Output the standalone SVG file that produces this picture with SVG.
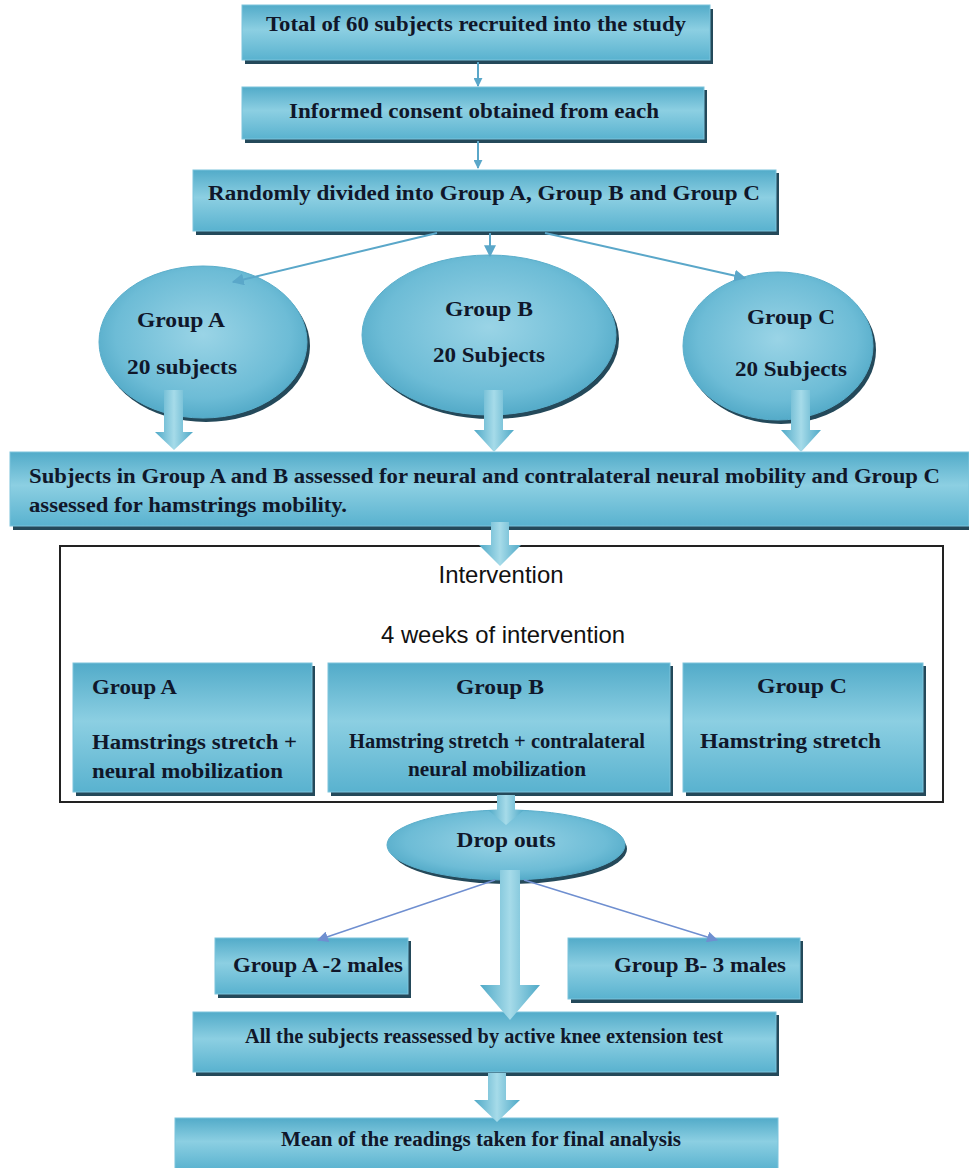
<svg xmlns="http://www.w3.org/2000/svg" width="969" height="1168" viewBox="0 0 969 1168">
<defs>
<linearGradient id="boxg" x1="0" y1="0" x2="0" y2="1">
<stop offset="0" stop-color="#52abc9"/>
<stop offset="0.45" stop-color="#8ccfe2"/>
<stop offset="1" stop-color="#59b2cf"/>
</linearGradient>
<radialGradient id="ellg" cx="0.5" cy="0.45" r="0.6">
<stop offset="0" stop-color="#9ad4e6"/>
<stop offset="0.7" stop-color="#6dbcd6"/>
<stop offset="1" stop-color="#4aa4c3"/>
</radialGradient>
<linearGradient id="fatg" x1="0" y1="0" x2="1" y2="0">
<stop offset="0" stop-color="#4fa9c7"/>
<stop offset="0.5" stop-color="#a6dbe9"/>
<stop offset="1" stop-color="#4fa9c7"/>
</linearGradient>
<marker id="ah" viewBox="0 0 10 10" refX="9" refY="5" markerWidth="9" markerHeight="9" orient="auto" markerUnits="userSpaceOnUse">
<path d="M0,0 L10,5 L0,10 Z" fill="#5aa7c9"/>
</marker>
<marker id="ah2" viewBox="0 0 10 10" refX="9" refY="5" markerWidth="12" markerHeight="12" orient="auto" markerUnits="userSpaceOnUse">
<path d="M0,0 L10,5 L0,10 Z" fill="#5aa7c9"/>
</marker>
<marker id="ah3" viewBox="0 0 10 10" refX="9" refY="5" markerWidth="11" markerHeight="11" orient="auto" markerUnits="userSpaceOnUse">
<path d="M0,0 L10,5 L0,10 Z" fill="#6f8fd0"/>
</marker>
</defs>
<style>
.box{fill:url(#boxg);stroke:#7cc4dc;stroke-width:1}
.sh{fill:#24495a}
.ell{fill:url(#ellg);stroke:#5aaecb;stroke-width:1}
.t{font-family:"Liberation Serif","Times New Roman",serif;font-weight:bold;font-size:20px;fill:#10172a}
.s{font-family:"Liberation Sans",Arial,sans-serif;font-size:24px;fill:#111}
.thin{stroke:#5aa7c9;stroke-width:2;fill:none}
.thin2{stroke:#6f8fd0;stroke-width:1.5;fill:none}
.fat{fill:url(#fatg)}
.mid{text-anchor:middle}
</style>

<g id="n1">
<rect class="sh" x="245" y="9" width="468" height="55"/>
<rect class="box" x="242" y="5" width="468" height="55"/>
<text class="t mid" x="476" y="31" textLength="420" lengthAdjust="spacingAndGlyphs">Total of 60 subjects recruited into the study</text>
</g>
<g id="n2">
<rect class="sh" x="245" y="90" width="462" height="53"/>
<rect class="box" x="242" y="87" width="462" height="52"/>
<text class="t mid" x="474" y="118" textLength="370" lengthAdjust="spacingAndGlyphs">Informed consent obtained from each</text>
</g>
<g id="n3">
<rect class="sh" x="196" y="173" width="583" height="62"/>
<rect class="box" x="193" y="170" width="583" height="61"/>
<text class="t mid" x="484" y="200" textLength="552" lengthAdjust="spacingAndGlyphs">Randomly divided into Group A, Group B and Group C</text>
</g>

<g id="eA">
<ellipse class="sh" cx="206" cy="346" rx="104" ry="76"/>
<ellipse class="ell" cx="203" cy="342" rx="104" ry="76"/>
<text class="t mid" x="181" y="327" textLength="88" lengthAdjust="spacingAndGlyphs">Group A</text>
<text class="t mid" x="182" y="374" textLength="110" lengthAdjust="spacingAndGlyphs">20 subjects</text>
</g>
<g id="eB">
<ellipse class="sh" cx="492" cy="339" rx="127" ry="80"/>
<ellipse class="ell" cx="489" cy="335" rx="127" ry="80"/>
<text class="t mid" x="489" y="316" textLength="88" lengthAdjust="spacingAndGlyphs">Group B</text>
<text class="t mid" x="489" y="362" textLength="112" lengthAdjust="spacingAndGlyphs">20 Subjects</text>
</g>
<g id="eC">
<ellipse class="sh" cx="781" cy="350" rx="95" ry="74"/>
<ellipse class="ell" cx="778" cy="346" rx="95" ry="74"/>
<text class="t mid" x="791" y="324" textLength="88" lengthAdjust="spacingAndGlyphs">Group C</text>
<text class="t mid" x="791" y="376" textLength="112" lengthAdjust="spacingAndGlyphs">20 Subjects</text>
</g>

<g id="n4">
<rect class="sh" x="13" y="456" width="956" height="74"/>
<rect class="box" x="10" y="452" width="959" height="74"/>
<text class="t" x="29" y="483" textLength="911" lengthAdjust="spacingAndGlyphs">Subjects in Group A and B assessed for neural and contralateral neural mobility and Group C</text>
<text class="t" x="29" y="512" textLength="318" lengthAdjust="spacingAndGlyphs">assessed for hamstrings mobility.</text>
</g>

<g id="intervention">
<rect x="60" y="546" width="883" height="256" fill="#fff" stroke="#222" stroke-width="2"/>
<text class="s mid" x="501" y="583" textLength="125" lengthAdjust="spacingAndGlyphs">Intervention</text>
<text class="s mid" x="503" y="643" textLength="244" lengthAdjust="spacingAndGlyphs">4 weeks of intervention</text>
</g>
<g id="iA">
<rect class="sh" x="76" y="666" width="239" height="130"/>
<rect class="box" x="73" y="663" width="239" height="129"/>
<text class="t" x="92" y="694" textLength="85" lengthAdjust="spacingAndGlyphs">Group A</text>
<text class="t" x="92" y="749" textLength="205" lengthAdjust="spacingAndGlyphs">Hamstrings stretch +</text>
<text class="t" x="92" y="778" textLength="191" lengthAdjust="spacingAndGlyphs">neural mobilization</text>
</g>
<g id="iB">
<rect class="sh" x="331" y="666" width="342" height="130"/>
<rect class="box" x="328" y="663" width="342" height="129"/>
<text class="t mid" x="500" y="694" textLength="88" lengthAdjust="spacingAndGlyphs">Group B</text>
<text class="t mid" x="497" y="748" textLength="296" lengthAdjust="spacingAndGlyphs">Hamstring stretch + contralateral</text>
<text class="t mid" x="497" y="776" textLength="178" lengthAdjust="spacingAndGlyphs">neural mobilization</text>
</g>
<g id="iC">
<rect class="sh" x="686" y="666" width="240" height="130"/>
<rect class="box" x="683" y="663" width="240" height="129"/>
<text class="t mid" x="802" y="693" textLength="90" lengthAdjust="spacingAndGlyphs">Group C</text>
<text class="t" x="700" y="748" textLength="181" lengthAdjust="spacingAndGlyphs">Hamstring stretch</text>
</g>

<g id="dropouts">
<ellipse class="sh" cx="509" cy="849" rx="118" ry="35"/>
<ellipse class="ell" cx="506" cy="845" rx="119" ry="35"/>
<text class="t mid" x="506" y="847" textLength="99" lengthAdjust="spacingAndGlyphs">Drop outs</text>
</g>
<g id="dA">
<rect class="sh" x="218" y="941" width="193" height="57"/>
<rect class="box" x="215" y="938" width="193" height="56"/>
<text class="t mid" x="318" y="972" textLength="170" lengthAdjust="spacingAndGlyphs">Group A -2 males</text>
</g>
<g id="dB">
<rect class="sh" x="571" y="941" width="232" height="62"/>
<rect class="box" x="568" y="938" width="232" height="61"/>
<text class="t mid" x="700" y="972" textLength="172" lengthAdjust="spacingAndGlyphs">Group B- 3 males</text>
</g>
<g id="n5">
<rect class="sh" x="196" y="1015" width="583" height="61"/>
<rect class="box" x="193" y="1012" width="583" height="60"/>
<text class="t mid" x="484" y="1043" textLength="478" lengthAdjust="spacingAndGlyphs">All the subjects reassessed by active knee extension test</text>
</g>
<g id="n6">
<rect class="box" x="175" y="1118" width="603" height="52"/>
<text class="t mid" x="481" y="1146" textLength="400" lengthAdjust="spacingAndGlyphs">Mean of the readings taken for final analysis</text>
</g>

<g id="connectors">
<line class="thin" x1="478" y1="62" x2="478" y2="86" marker-end="url(#ah)"/>
<line class="thin" x1="478" y1="141" x2="478" y2="168" marker-end="url(#ah)"/>
<line class="thin" x1="437" y1="233" x2="233" y2="282" marker-end="url(#ah2)"/>
<line class="thin" x1="490" y1="233" x2="490" y2="256" marker-end="url(#ah2)"/>
<line class="thin" x1="545" y1="233" x2="745" y2="278" marker-end="url(#ah2)"/>
<path class="fat" d="M164,390 L183,390 L183,432 L193,432 L174,450 L155,432 L164,432 Z"/>
<path class="fat" d="M484,390 L503,390 L503,430 L514,430 L494,452 L474,430 L484,430 Z"/>
<path class="fat" d="M791,390 L810,390 L810,430 L821,430 L801,452 L781,430 L791,430 Z"/>
<path class="fat" d="M491,522 L509,522 L509,545 L521,545 L500,566 L479,545 L491,545 Z"/>
<path class="fat" d="M497,795 L515,795 L515,810 L524,810 L506,825 L488,810 L497,810 Z"/>
<line class="thin2" x1="495" y1="880" x2="318" y2="940" marker-end="url(#ah3)"/>
<line class="thin2" x1="524" y1="880" x2="717" y2="940" marker-end="url(#ah3)"/>
<path class="fat" d="M500,870 L520,870 L520,985 L540,985 L510,1020 L480,985 L500,985 Z"/>
<path class="fat" d="M488,1073 L506,1073 L506,1100 L520,1100 L497,1122 L474,1100 L488,1100 Z"/>
</g>
</svg>
